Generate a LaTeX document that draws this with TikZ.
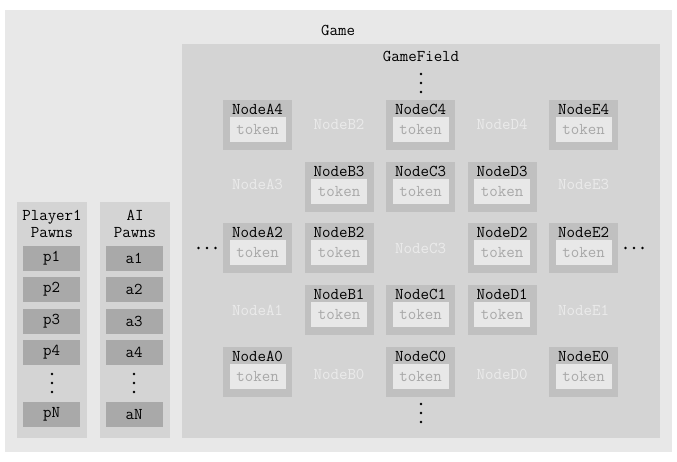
\documentclass[tikz,border=0pt]{standalone}
\usepackage{fontspec}
\usetikzlibrary{calc}
\definecolor{gamebg}{HTML}{E8E8E8}
\definecolor{fieldbg}{HTML}{D4D4D4}
\definecolor{nodebg}{HTML}{C0C0C0}
\definecolor{tokenbg}{HTML}{E8E8E8}
\definecolor{tokentx}{HTML}{A8A8A8}
\definecolor{pawnbg}{HTML}{A9A9A9}
\definecolor{ghosttx}{HTML}{EBEBEB}
\newcommand\gnode[3]{%
  \node[nodebox] (#1) at (#2,#3) {};
  \node[ntitle] (#1t) at ($(#1.north)+(0,9.5)$) {Node#1};
  \node[tokenbox] (#1k) at ($(#1.center)+(0,4.5)$) {token};
}
\newcommand\vdotsat[3]{% name, x, y (center)
  \coordinate (#1) at (#2,#3);
  \fill[dotfill] ($(#1)+(0,-9)$) circle (1.4pt) (#1) circle (1.4pt) ($(#1)+(0,9)$) circle (1.4pt);
}
\newcommand\hdotsat[3]{%
  \coordinate (#1) at (#2,#3);
  \fill[dotfill] ($(#1)+(-8.5,0)$) circle (1.4pt) (#1) circle (1.4pt) ($(#1)+(8.5,0)$) circle (1.4pt);
}
\begin{document}
\begin{tikzpicture}[x=1pt,y=-1pt,
  every node/.style={font=\ttfamily\fontsize{16.5}{17}\selectfont, inner sep=0pt, outer sep=0pt},
  panel/.style={draw=none, rectangle},
  nodebox/.style={rectangle, fill=nodebg, minimum width=69pt, minimum height=50pt},
  ntitle/.style={text=black},
  tokenbox/.style={rectangle, fill=tokenbg, text=tokentx, minimum width=56pt, minimum height=25pt},
  ghost/.style={text=ghosttx},
  pawn/.style={rectangle, fill=pawnbg, text=black, minimum width=57pt, minimum height=25pt},
  caption/.style={text=black, align=center},
  dotfill/.style={fill=black},
]
\useasboundingbox (0,0) rectangle (677,462);
\fill[white] (0,0) rectangle (677,462);
% containers
\node[panel, fill=gamebg, minimum width=667pt, minimum height=442pt] (game) at (338.5,231) {};
\node[caption] (gamelbl) at (338,30) {Game};
\node[panel, fill=fieldbg, minimum width=478pt, minimum height=394pt] (field) at (421,241) {};
\node[caption] (fieldlbl) at (421,56) {GameField};
\node[panel, fill=fieldbg, minimum width=70pt, minimum height=236pt] (player) at (52,320) {};
\node[panel, fill=fieldbg, minimum width=70pt, minimum height=236pt] (ai) at (135,320) {};
\node[caption] (playerlbl) at (52,223.5) {Player1\\Pawns};
\node[caption] (ailbl) at (135,223.5) {AI\\Pawns};
% pawns
\node[pawn] (p1) at (51.5,258.5) {p1};
\node[pawn] (p2) at (51.5,289.5) {p2};
\node[pawn] (p3) at (51.5,321) {p3};
\node[pawn] (p4) at (51.5,352) {p4};
\vdotsat{pdots}{52}{383}
\node[pawn] (pN) at (51.5,414.5) {pN};
\node[pawn] (a1) at (134,258.5) {a1};
\node[pawn] (a2) at (134,289.5) {a2};
\node[pawn] (a3) at (134,321) {a3};
\node[pawn] (a4) at (134,352) {a4};
\vdotsat{adots}{134}{383}
\node[pawn] (aN) at (134,414.5) {aN};
% grid nodes
\gnode{A4}{257.5}{125}
\gnode{C4}{420.5}{125}
\gnode{E4}{583.5}{125}
\gnode{B3}{339}{187}
\gnode{C3}{420.5}{187}
\gnode{D3}{502}{187}
\gnode{A2}{257.5}{248}
\gnode{B2}{339}{248}
\gnode{D2}{502}{248}
\gnode{E2}{583.5}{248}
\gnode{B1}{339}{310}
\gnode{C1}{420.5}{310}
\gnode{D1}{502}{310}
\gnode{A0}{257.5}{372}
\gnode{C0}{420.5}{372}
\gnode{E0}{583.5}{372}
% ghost labels
\node[ghost] (gB4) at (339,124) {NodeB2};
\node[ghost] (gD4) at (502,124) {NodeD4};
\node[ghost] (gA3) at (257.5,184) {NodeA3};
\node[ghost] (gE3) at (583.5,184) {NodeE3};
\node[ghost] (gC3) at (420.5,248) {NodeC3};
\node[ghost] (gA1) at (257.5,310) {NodeA1};
\node[ghost] (gE1) at (583.5,310) {NodeE1};
\node[ghost] (gB0) at (339,374) {NodeB0};
\node[ghost] (gD0) at (502,374) {NodeD0};
% ellipses
\vdotsat{topdots}{421}{83}
\vdotsat{botdots}{421}{413}
\hdotsat{leftdots}{207}{248}
\hdotsat{rightdots}{634}{248}
\end{tikzpicture}
\end{document}
